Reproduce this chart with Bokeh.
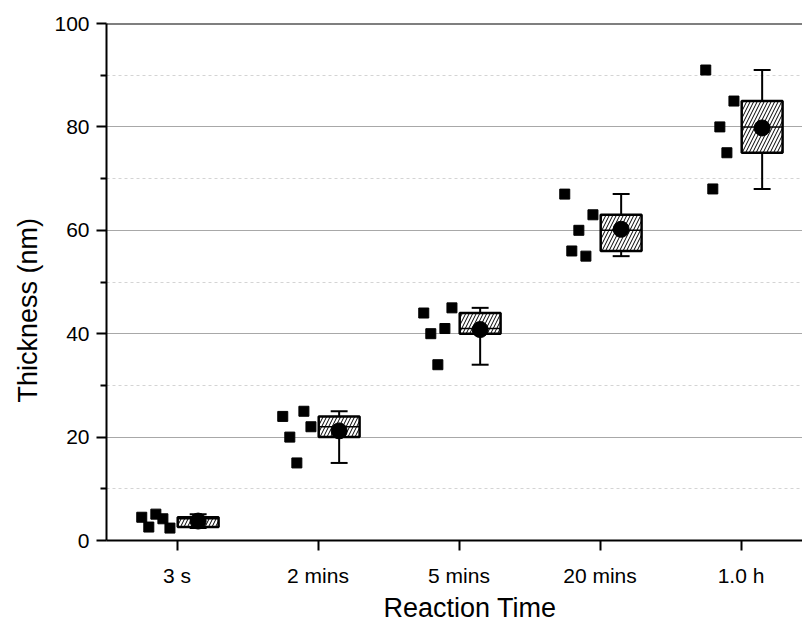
import numpy as np
from bokeh.plotting import figure
from bokeh.models import FixedTicker, Span, ColumnDataSource, Title
from bokeh.embed import file_html
from bokeh.resources import INLINE

# ---- data ----
categories = ["3 s", "2 mins", "5 mins", "20 mins", "1.0 h"]
thickness_3s = [4.5, 2.6, 5.1, 4.2, 2.4]
thickness_2min = [24, 20, 15, 25, 22]
thickness_5min = [44, 40, 34, 41, 45]
thickness_20min = [67, 56, 60, 55, 63]
thickness_1h = [91, 68, 80, 75, 85]
series = [thickness_3s, thickness_2min, thickness_5min, thickness_20min, thickness_1h]

y_ticks = [0, 20, 40, 60, 80, 100]
y_minor = [10, 30, 50, 70, 90]

x_title = "Reaction Time"
y_title = "Thickness (nm)"

FONT = "Liberation Sans"

# layout constants (style)
PX_PER_CAT = 141.0
jitter = [-0.25, -0.20, -0.15, -0.10, -0.05]
box_offset = 0.15
box_half = 0.145
cap_half = 0.06

xpos = list(range(1, len(categories) + 1))

pts_x, pts_y = [], []
for i, vals in enumerate(series):
    for j, v in enumerate(vals):
        pts_x.append(xpos[i] + jitter[j])
        pts_y.append(v)

bx, q1, q3, med, mn, mx, mean = [], [], [], [], [], [], []
for i, vals in enumerate(series):
    a = np.array(vals, dtype=float)
    bx.append(xpos[i] + box_offset)
    q1.append(float(np.percentile(a, 25)))
    q3.append(float(np.percentile(a, 75)))
    med.append(float(np.median(a)))
    mn.append(float(a.min()))
    mx.append(float(a.max()))
    mean.append(float(a.mean()))

box_src = ColumnDataSource(dict(
    x=bx, left=[b - box_half for b in bx], right=[b + box_half for b in bx],
    capl=[b - cap_half for b in bx], capr=[b + cap_half for b in bx],
    q1=q1, q3=q3, med=med, mn=mn, mx=mx, mean=mean))

p = figure(width=802, height=624, frame_width=696, frame_height=517,
           x_range=(0.5, 0.5 + 696 / PX_PER_CAT), y_range=(0, 100),
           output_backend="svg", toolbar_location=None,
           min_border_left=106, min_border_top=23, min_border_right=0, min_border_bottom=84)
p.outline_line_color = None
p.background_fill_color = "white"
p.border_fill_color = "white"

# grids
p.xgrid.grid_line_color = None
p.ygrid.ticker = FixedTicker(ticks=y_ticks, minor_ticks=y_minor)
p.ygrid.grid_line_color = "#a8a8a8"
p.ygrid.grid_line_width = 1
p.ygrid.minor_grid_line_color = "#d4d4d4"
p.ygrid.minor_grid_line_dash = "3 3"
p.ygrid.minor_grid_line_width = 1

# top border
p.add_layout(Span(location=100, dimension="width", line_color="black", line_width=2))

# axes
p.xaxis.ticker = FixedTicker(ticks=xpos)
p.xaxis.major_label_overrides = {x: c for x, c in zip(xpos, categories)}
p.yaxis.ticker = FixedTicker(ticks=y_ticks, minor_ticks=y_minor)
for ax in (p.xaxis[0], p.yaxis[0]):
    ax.axis_line_color = "black"
    ax.axis_line_width = 2
    ax.major_tick_line_color = "black"
    ax.major_tick_line_width = 2
    ax.major_tick_in = 0
    ax.major_tick_out = 10
    ax.minor_tick_line_color = "black"
    ax.minor_tick_line_width = 2
    ax.minor_tick_in = 0
    ax.minor_tick_out = 6
    ax.major_label_text_font = FONT
    ax.major_label_text_font_size = "21px"
    ax.major_label_text_color = "black"
p.xaxis.minor_tick_line_color = None
p.xaxis.major_label_standoff = 13
p.yaxis.major_label_standoff = 7

# axis titles as side-panel titles (reference centres them off the frame centre)
p.add_layout(Title(text=x_title, align="left", offset=277, standoff=3,
                   text_font=FONT, text_font_size="27px", text_font_style="normal",
                   text_color="black"), "below")
p.add_layout(Title(text=y_title, align="left", offset=138, standoff=18,
                   text_font=FONT, text_font_size="27px", text_font_style="normal",
                   text_color="black"), "left")

# data points
p.scatter(pts_x, pts_y, marker="square", size=10, fill_color="black", line_color="black")

# whiskers
p.segment(x0="x", y0="mn", x1="x", y1="mx", source=box_src, line_color="black", line_width=2)
p.segment(x0="capl", y0="mx", x1="capr", y1="mx", source=box_src, line_color="black", line_width=2)
p.segment(x0="capl", y0="mn", x1="capr", y1="mn", source=box_src, line_color="black", line_width=2)

# boxes
p.quad(left="left", right="right", bottom="q1", top="q3", source=box_src,
       fill_color="white", hatch_pattern="/", hatch_color="black", hatch_scale=7,
       hatch_weight=1, line_color="black", line_width=2.5)
p.segment(x0="left", y0="med", x1="right", y1="med", source=box_src, line_color="black", line_width=1.5)

# mean
p.scatter(x="x", y="mean", source=box_src, marker="circle", size=16,
          fill_color="black", line_color="black")

open("out.html", "w").write(file_html(p, INLINE))
